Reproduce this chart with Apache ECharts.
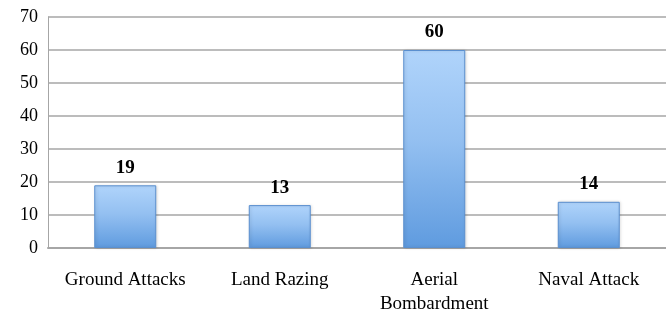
<!DOCTYPE html>
<html>
<head>
<meta charset="utf-8">
<style>
  html, body { margin: 0; padding: 0; background: #fff; }
  #chart { width: 666px; height: 317px; }
</style>
<script src="https://cdn.jsdelivr.net/npm/echarts@6/dist/echarts.min.js"></script>
</head>
<body>
<div id="chart"></div>
<script>
const categories = ["Ground Attacks", "Land Razing", "Aerial\nBombardment", "Naval Attack"];
const values = [19, 13, 60, 14];
const yTicks = [0, 10, 20, 30, 40, 50, 60, 70];

const chart = echarts.init(document.getElementById("chart"));

const serif = "'Liberation Serif', 'DejaVu Serif', serif";

const barColor = new echarts.graphic.LinearGradient(0, 0, 0, 1, [
    { offset: 0, color: "#b0d4fb" },
    { offset: 0.45, color: "#94c0f1" },
    { offset: 1, color: "#5f9bdf" },
]);

const option = {
    animation: false,
    grid: {
        left: 48,
        right: -6,
        top: 17,
        bottom: 69,
    },
    xAxis: {
        type: "category",
        data: categories,
        axisLine: { lineStyle: { color: "#a6a6a6", width: 2 } },
        axisTick: { show: false },
        axisLabel: {
            color: "#000",
            fontFamily: serif,
            fontSize: 19,
            margin: 20,
            lineHeight: 24,
            interval: 0,
        },
    },
    yAxis: {
        type: "value",
        min: yTicks[0],
        max: yTicks[yTicks.length - 1],
        interval: 10,
        axisLine: { show: true, lineStyle: { color: "#a6a6a6", width: 1 } },
        axisTick: { show: false },
        axisLabel: {
            color: "#000",
            fontFamily: serif,
            fontSize: 18,
            margin: 10,
            padding: [6, 0, 0, 0],
        },
        splitLine: { lineStyle: { color: "#a6a6a6", width: 1.5 } },
    },
    series: [
        {
            type: "bar",
            data: values,
            barWidth: 62,
            itemStyle: {
                color: barColor,
                borderColor: "#5a8fcf",
                borderWidth: 1,
                shadowColor: "rgba(0,0,0,0.15)",
                shadowBlur: 3,
                shadowOffsetX: 1,
            },
            label: {
                show: true,
                position: "top",
                distance: 8,
                color: "#000",
                fontFamily: serif,
                fontSize: 19,
                fontWeight: "bold",
            },
        },
    ],
};

chart.setOption(option);
window.addEventListener("resize", () => chart.resize());
</script>
</body>
</html>
